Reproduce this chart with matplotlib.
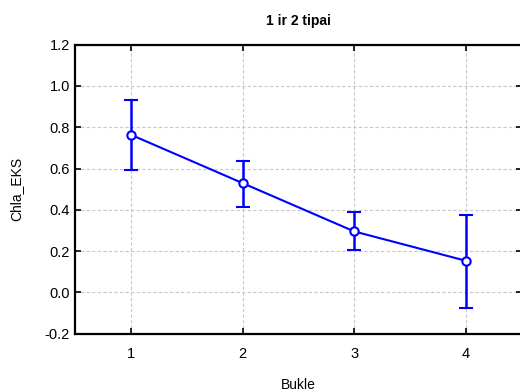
import matplotlib
matplotlib.use("Agg")
import matplotlib.pyplot as plt
import numpy as np

plt.rcParams['font.family'] = ['Liberation Sans', 'DejaVu Sans']

bukle = [1, 2, 3, 4]
mean = [0.763, 0.529, 0.295, 0.153]
ci_low = [0.593, 0.414, 0.204, -0.077]
ci_high = [0.933, 0.634, 0.390, 0.375]

mean = np.array(mean)
yerr = np.vstack([mean - np.array(ci_low), np.array(ci_high) - mean])

fig = plt.figure(figsize=(5.2, 3.92), dpi=100)
ax = fig.add_axes([0.145, 0.149, 0.858, 0.737])

ax.errorbar(bukle, mean, yerr=yerr, color='#0000ff', lw=1.5,
            marker='o', ms=6, mfc='white', mec='#0000ff', mew=1.5,
            capsize=5, capthick=1.8, elinewidth=1.8, zorder=3)

ax.set_xlim(0.5, 4.5)
ax.set_ylim(-0.2, 1.2)
ax.set_xticks(bukle)
yt = np.arange(-0.2, 1.21, 0.2)
ax.set_yticks(yt)
ax.set_yticklabels([f"{v:.1f}" for v in yt])

ax.grid(True, ls=(0, (3, 2)), color='#c8c8c8', lw=0.8)
ax.tick_params(direction='in', length=4, width=1.2, top=True, right=True,
               labelsize=10.5, colors='black')
ax.tick_params(axis='x', pad=10)
ax.tick_params(axis='y', pad=4)
for s in ax.spines.values():
    s.set_linewidth(1.6)

ax.set_title('1 ir 2 tipai', fontsize=10, fontweight='bold', pad=14)
ax.set_xlabel('Bukle', fontsize=10, labelpad=12)
ax.set_ylabel('Chla_EKS', fontsize=10, labelpad=15)

fig.savefig('out.png', dpi=100)
